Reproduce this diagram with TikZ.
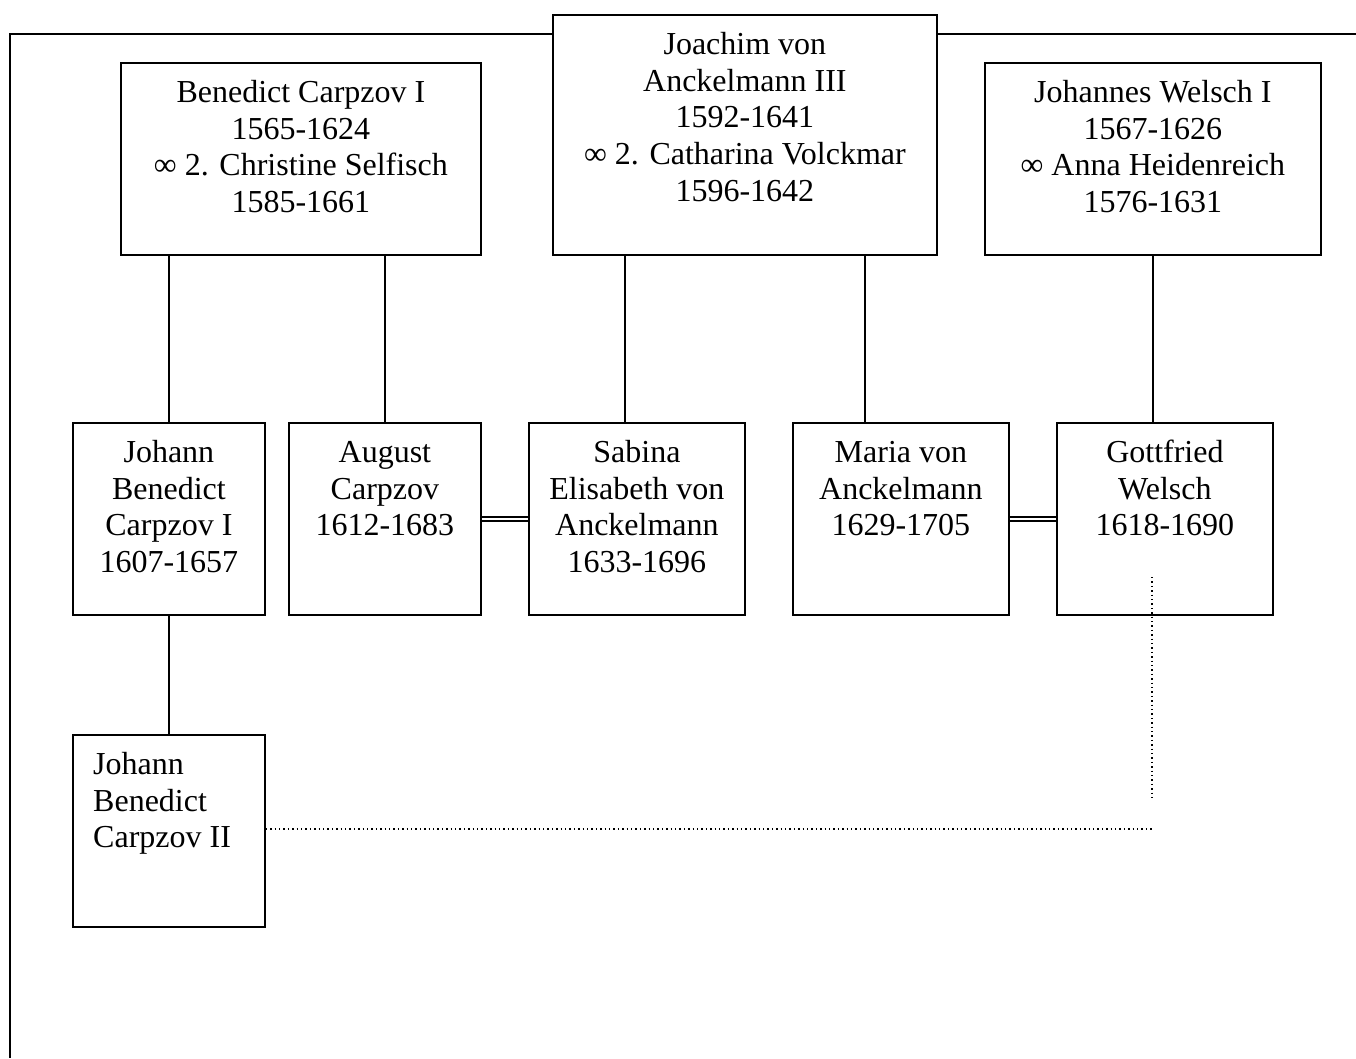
\documentclass[tikz,border=0pt]{standalone}
\usepackage{fontspec}
\setmainfont{Liberation Serif}
\tikzset{
  box/.style={draw, line width=1.8pt, fill=white, inner sep=0pt, anchor=north west},
  txt/.style={inner sep=0pt, align=center, anchor=north, font=\fontsize{32}{36.8}\selectfont},
  conn/.style={line width=1.5pt},
  marriage/.style={double, double distance=2.6pt, line width=2.1pt},
  dotline/.style={line width=1.4pt, dash pattern=on 1.4pt off 3pt},
}
\begin{document}
\begin{tikzpicture}[x=1pt,y=-1pt]
\useasboundingbox (0,0) rectangle (1356,1058);
% frame
\draw[line width=1.8pt] (1356,34) -- (10,34) -- (10,1058);
% top row
\node[box, minimum width=360, minimum height=192] (b1) at (120,62) {};
\node[box, minimum width=384, minimum height=240] (b2) at (552,14) {};
\node[box, minimum width=336, minimum height=192] (b3) at (984,62) {};
% second row
\node[box, minimum width=192, minimum height=192] (jbc1) at (72,422) {};
\node[box, minimum width=192, minimum height=192] (aug) at (288,422) {};
\node[box, minimum width=216, minimum height=192] (sab) at (528,422) {};
\node[box, minimum width=216, minimum height=192] (mar) at (792,422) {};
\node[box, minimum width=216, minimum height=192] (gw) at (1056,422) {};
% third row
\node[box, minimum width=192, minimum height=192] (jbc2) at (72,734) {};
% texts
\node[txt] (t1) at ([yshift=-14.4]b1.north) {\strut Benedict Carpzov I\\1565-1624\\∞ 2. Christine Selfisch\\1585-1661};
\node[txt] (t2) at ([yshift=-14.4]b2.north) {\strut Joachim von\\Anckelmann III\\1592-1641\\∞ 2. Catharina Volckmar\\1596-1642};
\node[txt] (t3) at ([yshift=-14.4]b3.north) {\strut Johannes Welsch I\\1567-1626\\∞ Anna Heidenreich\\1576-1631};
\node[txt] (t4) at ([yshift=-14.4]jbc1.north) {\strut Johann\\Benedict\\Carpzov I\\1607-1657};
\node[txt] (t5) at ([yshift=-14.4]aug.north) {\strut August\\Carpzov\\1612-1683};
\node[txt] (t6) at ([yshift=-14.4]sab.north) {\strut Sabina\\Elisabeth von\\Anckelmann\\1633-1696};
\node[txt] (t7) at ([yshift=-14.4]mar.north) {\strut Maria von\\Anckelmann\\1629-1705};
\node[txt] (t8) at ([yshift=-14.4]gw.north) {\strut Gottfried\\Welsch\\1618-1690};
\node[txt, align=left, anchor=north west] (t9) at ([xshift=21,yshift=-14.4]jbc2.north west) {\strut Johann\\Benedict\\Carpzov II};
% descent lines
\draw[conn] (jbc1.north) -- (jbc1.north |- b1.south);
\draw[conn] (aug.north) -- (aug.north |- b1.south);
\draw[conn] ([xshift=-120]b2.south) -- ([xshift=-12]sab.north);
\draw[conn] ([xshift=120]b2.south) -- ([xshift=-36]mar.north);
\draw[conn] (b3.south) -- (b3.south |- gw.north);
\draw[conn] (jbc1.south) -- (jbc2.north);
% marriages
\draw[marriage] (aug.east) -- (sab.west);
\draw[marriage] (mar.east) -- (gw.west);
% dotted relation
\coordinate (d1) at (1152,577);
\coordinate (d2) at (1152,800);
\coordinate (d3) at (1152,829);
\draw[dotline] (d1) -- (d2);
\draw[dotline] (jbc2.east |- d3) -- (d3);
\end{tikzpicture}
\end{document}
